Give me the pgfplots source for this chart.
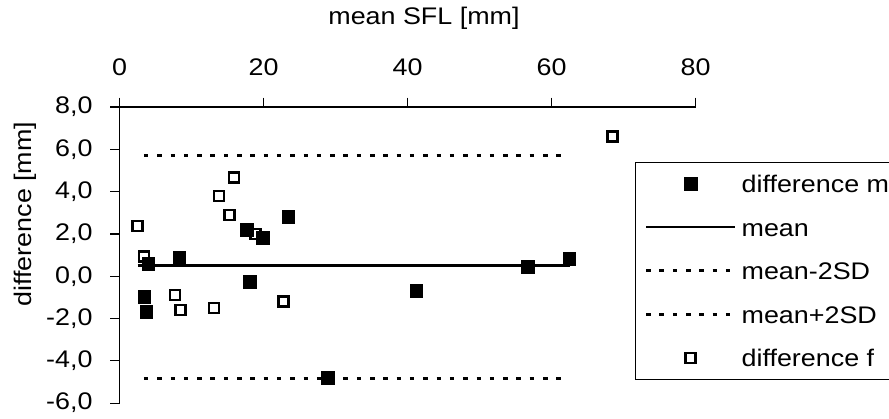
\documentclass[border=0pt]{standalone}
\usepackage{fontspec}
\setmainfont{Liberation Sans}[FakeStretch=1.12]
\usepackage{pgfplots}
\pgfplotsset{compat=1.18}

\pgfplotsset{
  mlegend/.style={legend image code/.code={\draw[mark repeat=2,mark phase=2,##1] plot coordinates {(0bp,0bp)(44.5bp,0bp)(89bp,0bp)};}},
  llegend/.style={legend image code/.code={\draw[##1] (0bp,0bp) -- (89bp,0bp);}},
  diffm/.style={black, only marks, mark=square*, mark size=6.2bp, line width=0.5bp, mark options={fill=black, line width=0.5bp}, mlegend},
  difff/.style={black, only marks, mark=square, mark size=5bp, line width=2.5bp, mark options={fill=white, line width=2.5bp}, mlegend},
  meanl/.style={black, line width=2.3bp, no marks, llegend},
  sdl/.style={black, line width=3bp, dash pattern=on 4.5bp off 8.8bp, no marks, llegend},
}

\begin{document}
\begin{tikzpicture}[font=\fontsize{24bp}{28bp}\selectfont]
\begin{axis}[
  x=7.2bp, y=21.15bp,
  xmin=0, xmax=80, ymin=-6, ymax=8,
  axis x line*=top, axis y line*=left,
  axis line style={line width=1.2bp, black},
  xtick={0,20,...,80}, ytick={-6,-4,...,8},
  tick align=outside, major tick length=9.5bp,
  tick style={line width=1.2bp, black},
  /pgf/number format/assume math mode=true,
  yticklabel style={xshift=-14bp, /pgf/number format/fixed, /pgf/number format/fixed zerofill,
    /pgf/number format/precision=1, /pgf/number format/use comma, /pgf/number format/assume math mode=true},
  xticklabel style={yshift=18bp, /pgf/number format/assume math mode=true},
  xlabel={mean SFL [mm]}, ylabel={difference [mm]},
  every axis x label/.style={at={(axis description cs:0.5286,1.277)}, anchor=base},
  every axis y label/.style={at={(axis description cs:-0.164,0.638)}, rotate=90, anchor=center},
  clip=false,
  legend style={at={(axis description cs:0.895,0.815)}, anchor=north west, draw=black, line width=1.2bp,
    inner xsep=9bp, inner ysep=10.4bp, row sep=21.5bp, column sep=5bp,
    nodes={inner sep=0pt, text height=20bp, text depth=2bp}},
  legend cell align=left,
]
\addlegendimage{diffm}
\addplot[meanl] coordinates {(2.5,0.5) (62.5,0.5)};
\addplot[sdl] coordinates {(3.4,-4.85) (62.5,-4.85)};
\addplot[sdl] coordinates {(3.4,5.7) (62.5,5.7)};
\addlegendimage{difff}
\addplot[difff, forget plot] coordinates {
  (15.9,4.66) (13.8,3.8) (15.3,2.9) (2.5,2.38) (18.9,2.0) (3.4,0.93)
  (7.7,-0.88) (8.5,-1.6) (13.1,-1.5) (22.8,-1.2) (68.5,6.6)};
\addplot[diffm, forget plot] coordinates {
  (23.4,2.81) (17.7,2.2) (19.9,1.82) (8.3,0.87) (4.0,0.59) (18.1,-0.26)
  (3.4,-0.97) (3.7,-1.68) (41.2,-0.69) (28.9,-4.8) (56.7,0.45) (62.5,0.83)};
\legend{difference m, mean, mean-2SD, mean+2SD, difference f}
\coordinate (bbsw) at (axis cs:-16.597,-6.709);
\coordinate (bbne) at (axis cs:106.87,13.059);
\end{axis}
\pgfresetboundingbox
\path[use as bounding box] (bbsw) rectangle (bbne);
\end{tikzpicture}
\end{document}
